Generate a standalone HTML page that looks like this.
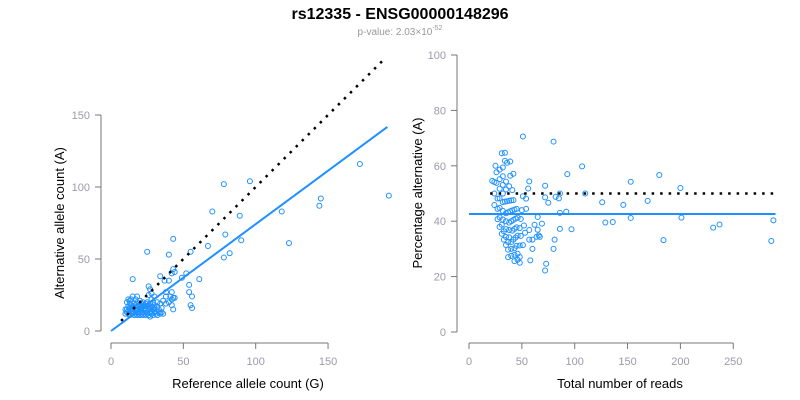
<!DOCTYPE html>
<html><head><meta charset="utf-8"><style>
body{margin:0;background:#fff;}
svg{display:block;font-family:"Liberation Sans",Arial,sans-serif;}
</style></head><body>
<svg id="chart" width="800" height="400" viewBox="0 0 800 400">
<rect width="800" height="400" fill="#fff"/>
<text x="400" y="19" text-anchor="middle" font-size="16" font-weight="bold" fill="#000">rs12335 - ENSG00000148296</text>
<text x="400" y="35" text-anchor="middle" font-size="10" fill="#999">p-value: 2.03×10<tspan dy="-5" font-size="7">-52</tspan></text>
<g id="left"></g>
<g id="right"></g>
</svg>
<script>
const refCounts = [78,96,172,192,145,144,118,123,70,89,79,90,67,78,82,55,43,40,25,61,52,54,54,56,55,56,15,43,42,44,34,37,40,49,42,43,44,42,42,43,38,38,26,27,28,30,15,17,
11,11,12,12,12,13,13,13,14,14,14,15,15,15,16,16,16,16,17,17,17,18,18,18,18,19,19,19,20,20,20,21,21,21,21,22,22,22,22,23,23,23,24,24,24,24,25,25,25,25,26,26,26,27,27,27,27,28,28,28,29,29,29,30,30,30,31,31,32,32,33,33,34,34,35,35,11,10,10,12,13,14,18,20,26,28,32,36,36,38,40,41];
const altCounts = [102,104,116,94,92,87,83,61,83,80,67,63,59,51,54,55,64,53,55,36,40,32,27,24,18,16,36,43,40,41,38,35,35,37,27,23,23,22,18,15,27,24,31,29,26,24,24,22,
13,15,12,17,14,11,16,19,13,15,18,12,14,17,11,13,16,19,12,15,18,11,14,16,20,12,13,17,11,15,18,12,14,16,19,11,13,17,20,12,15,18,11,14,16,19,12,13,17,20,11,15,18,10,13,16,19,12,14,17,11,15,20,13,16,18,12,14,11,17,13,15,12,19,13,16,20,12,15,22,21,22,24,21,25,22,20,21,12,19,20,24];
const leftXTicks = [0,50,100,150];
const leftYTicks = [0,50,100,150];
const rightXTicks = [0,50,100,150,200,250];
const rightYTicks = [0,20,40,60,80,100];
const fitSlope = [0.742];
const fitPct = [42.6];
const NS='http://www.w3.org/2000/svg';
function mk(parent,tag,attrs){const e=document.createElementNS(NS,tag);for(const k in attrs)e.setAttribute(k,attrs[k]);parent.appendChild(e);return e;}
const AX='#777', LB='#9a9aaa', BLUE='#1E90FF';
const lx=v=>111+v*1.447, ly=v=>331-v*1.44;
const rx=v=>469+v*1.057, ry=v=>332-v*2.77;
const L=document.getElementById('left'), R=document.getElementById('right');
let a=mk(L,'line',{x1:101,x2:101,y1:ly(0),y2:ly(150),stroke:AX});

leftYTicks.forEach(t=>{const g=mk(L,'g',{});
 mk(g,'line',{x1:95,x2:101,y1:ly(t),y2:ly(t),stroke:AX});
 const tx=mk(g,'text',{x:90,y:ly(t)+4,'text-anchor':'end','font-size':11,fill:LB});tx.textContent=t;});
a=mk(L,'line',{x1:lx(0),x2:lx(150),y1:343,y2:343,stroke:AX});

leftXTicks.forEach(t=>{const g=mk(L,'g',{});
 mk(g,'line',{x1:lx(t),x2:lx(t),y1:343,y2:349,stroke:AX});
 const tx=mk(g,'text',{x:lx(t),y:365,'text-anchor':'middle','font-size':11,fill:LB});tx.textContent=t;});
let tt=mk(L,'text',{x:248,y:388,'text-anchor':'middle','font-size':13,fill:'#000'});tt.textContent='Reference allele count (G)';

tt=mk(L,'text',{x:64,y:223,'text-anchor':'middle','font-size':13,fill:'#000',transform:'rotate(-90 64 223)'});tt.textContent='Alternative allele count (A)';

refCounts.forEach((r,i)=>{const c=mk(L,'circle',{cx:lx(r),cy:ly(altCounts[i]),r:2.5,fill:'none',stroke:BLUE,'stroke-width':1});
 });
let ln=mk(L,'line',{x1:lx(7),y1:ly(7),x2:lx(190),y2:ly(190),stroke:'#000','stroke-width':2.5,'stroke-dasharray':'2.5 6'});

ln=mk(L,'line',{x1:lx(0),y1:ly(0),x2:lx(191),y2:ly(191*fitSlope[0]),stroke:BLUE,'stroke-width':2});

a=mk(R,'line',{x1:457,x2:457,y1:ry(0),y2:ry(100),stroke:AX});

rightYTicks.forEach(t=>{const g=mk(R,'g',{});
 mk(g,'line',{x1:451,x2:457,y1:ry(t),y2:ry(t),stroke:AX});
 const tx=mk(g,'text',{x:446,y:ry(t)+4,'text-anchor':'end','font-size':11,fill:LB});tx.textContent=t;});
a=mk(R,'line',{x1:rx(0),x2:rx(250),y1:343,y2:343,stroke:AX});

rightXTicks.forEach(t=>{const g=mk(R,'g',{});
 mk(g,'line',{x1:rx(t),x2:rx(t),y1:343,y2:349,stroke:AX});
 const tx=mk(g,'text',{x:rx(t),y:365,'text-anchor':'middle','font-size':11,fill:LB});tx.textContent=t;});
tt=mk(R,'text',{x:620,y:388,'text-anchor':'middle','font-size':13,fill:'#000'});tt.textContent='Total number of reads';

tt=mk(R,'text',{x:422,y:193,'text-anchor':'middle','font-size':13,fill:'#000',transform:'rotate(-90 422 193)'});tt.textContent='Percentage alternative (A)';

refCounts.forEach((r,i)=>{const tot=r+altCounts[i];const p=altCounts[i]/tot*100;
 const c=mk(R,'circle',{cx:rx(tot),cy:ry(p),r:2.5,fill:'none',stroke:BLUE,'stroke-width':1});
 });
ln=mk(R,'line',{x1:rx(20),y1:ry(50),x2:rx(290),y2:ry(50),stroke:'#000','stroke-width':2.5,'stroke-dasharray':'2.5 6'});

ln=mk(R,'line',{x1:rx(0),y1:ry(fitPct[0]),x2:rx(290),y2:ry(fitPct[0]),stroke:BLUE,'stroke-width':2});

</script>
</body></html>
